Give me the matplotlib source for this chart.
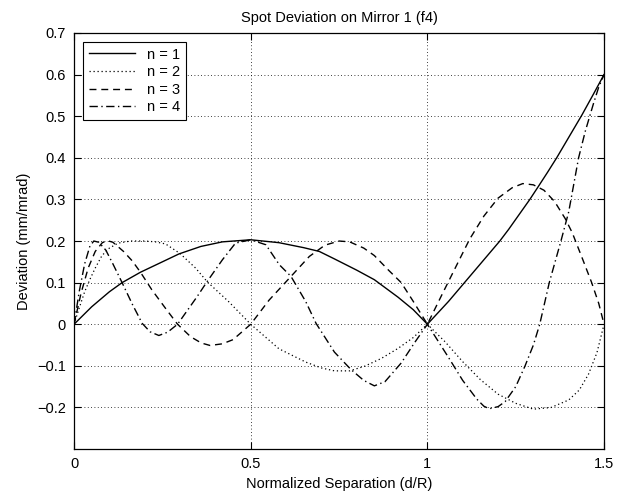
import matplotlib
matplotlib.use("Agg")
import matplotlib.pyplot as plt

plt.rcParams['font.family'] = ['Liberation Sans', 'DejaVu Sans']

# values
x1 = [0, 0.05, 0.1, 0.136, 0.188, 0.25, 0.297, 0.359, 0.42, 0.5, 0.58, 0.65,
      0.694, 0.737, 0.8, 0.85, 0.917, 0.96, 1.0, 1.06, 1.1, 1.15, 1.18, 1.205,
      1.23, 1.26, 1.29, 1.314, 1.34, 1.366, 1.4, 1.4375, 1.47, 1.5]
y1 = [0, 0.042, 0.078, 0.1, 0.125, 0.15, 0.169, 0.187, 0.198, 0.203, 0.196,
      0.184, 0.175, 0.157, 0.13, 0.107, 0.065, 0.035, 0, 0.055, 0.095, 0.145,
      0.175, 0.2, 0.228, 0.264, 0.3, 0.331, 0.365, 0.4, 0.449, 0.503, 0.553,
      0.6]

x2 = [0, 0.015, 0.03, 0.045, 0.06, 0.079, 0.1, 0.125, 0.16, 0.2, 0.23, 0.259,
      0.3, 0.344, 0.377, 0.438, 0.5, 0.58, 0.656, 0.7, 0.737, 0.78, 0.822,
      0.87, 0.917, 0.96, 1.0, 1.05, 1.1, 1.15, 1.2, 1.25, 1.3, 1.35, 1.4,
      1.43, 1.456, 1.48, 1.5]
y2 = [0, 0.04, 0.078, 0.108, 0.135, 0.165, 0.183, 0.195, 0.2, 0.2, 0.198,
      0.193, 0.17, 0.135, 0.102, 0.054, 0, -0.059, -0.091, -0.105, -0.112,
      -0.112, -0.101, -0.082, -0.058, -0.032, 0, -0.042, -0.09, -0.133,
      -0.168, -0.19, -0.204, -0.2, -0.182, -0.158, -0.12, -0.068, 0]

x3 = [0, 0.02, 0.04, 0.06, 0.08, 0.094, 0.11, 0.14, 0.165, 0.188, 0.22, 0.26,
      0.293, 0.33, 0.36, 0.385, 0.42, 0.45, 0.5, 0.552, 0.614, 0.666, 0.71,
      0.75, 0.78, 0.82, 0.85, 0.89, 0.926, 0.96, 1.0, 1.04, 1.087, 1.12,
      1.16, 1.2, 1.24, 1.27, 1.3, 1.33, 1.36, 1.39, 1.41, 1.44, 1.465, 1.485,
      1.5]
y3 = [0, 0.075, 0.135, 0.175, 0.196, 0.201, 0.197, 0.175, 0.152, 0.125,
      0.083, 0.037, 0, -0.03, -0.045, -0.051, -0.047, -0.037, 0, 0.058, 0.115,
      0.163, 0.19, 0.2, 0.198, 0.183, 0.165, 0.13, 0.1, 0.055, 0, 0.069,
      0.149, 0.205, 0.26, 0.303, 0.328, 0.338, 0.335, 0.322, 0.295, 0.254,
      0.22, 0.155, 0.1, 0.05, 0]

x4 = [0, 0.015, 0.03, 0.045, 0.056, 0.07, 0.09, 0.11, 0.136, 0.165, 0.193,
      0.215, 0.24, 0.265, 0.293, 0.348, 0.377, 0.42, 0.457, 0.5, 0.543, 0.581,
      0.614, 0.656, 0.685, 0.737, 0.784, 0.82, 0.85, 0.88, 0.926, 0.964, 1.0,
      1.03, 1.06, 1.1, 1.14, 1.16, 1.175, 1.2, 1.22, 1.25, 1.276, 1.3, 1.318,
      1.345, 1.378, 1.4, 1.428, 1.447, 1.47, 1.485, 1.5]
y4 = [0, 0.08, 0.145, 0.188, 0.2, 0.197, 0.178, 0.145, 0.1, 0.048, 0.002,
      -0.018, -0.027, -0.019, 0, 0.066, 0.103, 0.155, 0.195, 0.203, 0.191,
      0.143, 0.115, 0.054, 0.002, -0.067, -0.109, -0.135, -0.148, -0.138,
      -0.093, -0.044, 0, -0.04, -0.08, -0.135, -0.18, -0.197, -0.203, -0.198,
      -0.186, -0.15, -0.101, -0.05, 0, 0.1, 0.2, 0.27, 0.4, 0.464, 0.53, 0.57,
      0.6]

xticks = [0, 0.5, 1, 1.5]
xtick_labels = ['0', '0.5', '1', '1.5']
yticks = [-0.2, -0.1, 0, 0.1, 0.2, 0.3, 0.4, 0.5, 0.6, 0.7]
ytick_labels = ['\u22120.2', '\u22120.1', '0', '0.1', '0.2', '0.3', '0.4',
                '0.5', '0.6', '0.7']

fig = plt.figure(figsize=(6.17, 4.99), dpi=100)
ax = fig.add_axes([0.12, 0.1, 0.859, 0.834])

ax.plot(x1, y1, color='black', linestyle='-', linewidth=1.0, label='n = 1')
ax.plot(x2, y2, color='black', linestyle=(0, (1, 2.2)), linewidth=0.9, label='n = 2')
ax.plot(x3, y3, color='black', linestyle=(0, (5, 3.5)), linewidth=1.0, label='n = 3')
ax.plot(x4, y4, color='black', linestyle=(0, (6, 2.5, 1, 2.5)), linewidth=1.0, label='n = 4')

ax.set_xlim(0, 1.5)
ax.set_ylim(-0.3, 0.7)
ax.set_xticks(xticks)
ax.set_xticklabels(xtick_labels)
ax.set_yticks(yticks)
ax.set_yticklabels(ytick_labels)
ax.tick_params(direction='in', length=5, width=0.8, top=True, right=True,
               labelsize=10.5, colors='black', pad=6)
ax.grid(True, color='black', linestyle=(0, (1, 3)), linewidth=0.6)
for s in ax.spines.values():
    s.set_linewidth(0.9)
    s.set_color('black')

ax.set_title('Spot Deviation on Mirror 1 (f4)', fontsize=10.5, pad=8)
ax.set_xlabel('Normalized Separation (d/R)', fontsize=10.5, labelpad=4)
ax.set_ylabel('Deviation (mm/mrad)', fontsize=10.5, labelpad=4)

leg = ax.legend(loc='upper left', fontsize=10.5, frameon=True, fancybox=False,
                framealpha=1, edgecolor='black', handlelength=3.2,
                borderaxespad=0.6, labelspacing=0.25, handletextpad=0.8,
                borderpad=0.4)
leg.get_frame().set_linewidth(0.8)

fig.savefig('out.png', dpi=100)
